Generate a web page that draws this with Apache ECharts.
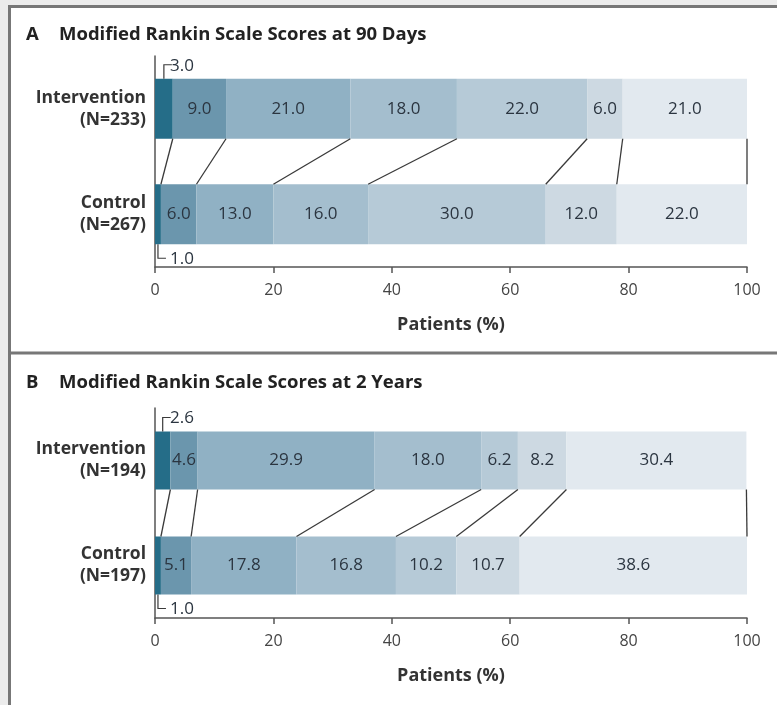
<!DOCTYPE html>
<html style="height: 100%">
<head>
    <meta charset="utf-8">
    <script type="text/javascript" src="https://cdn.jsdelivr.net/npm/echarts@6/dist/echarts.min.js"></script>
</head>
<body style="height: 100%; margin: 0">
<div id="container" style="height: 705px;width: 777px;position: absolute;top: 0;left: 0px;"></div>
<script type="text/javascript">
    // mRS score shares (%), score 0 .. 6
    var catsA = ['Intervention\n(N=233)', 'Control\n(N=267)'];
    var intA = [3.0, 9.0, 21.0, 18.0, 22.0, 6.0, 21.0];
    var ctrlA = [1.0, 6.0, 13.0, 16.0, 30.0, 12.0, 22.0];
    var catsB = ['Intervention\n(N=194)', 'Control\n(N=197)'];
    var intB = [2.6, 4.6, 29.9, 18.0, 6.2, 8.2, 30.4];
    var ctrlB = [1.0, 5.1, 17.8, 16.8, 10.2, 10.7, 38.6];
    var xTicks = [0, 20, 40, 60, 80, 100];

    var colors = ['#256d88', '#6b96ad', '#90b1c4', '#a4bece', '#b6cad7', '#cdd9e2', '#e2e9ef'];
    var font = 'Open Sans';
    var txt = '#2b3540';

    var dom = document.getElementById("container");
    var myChart = echarts.init(dom, null, {renderer: 'canvas'});

    function cum(arr) {
        var s = 0, out = [];
        for (var i = 0; i < arr.length; i++) {
            s += arr[i];
            out.push(Math.min(Math.round(s * 10) / 10, 100));
        }
        return out;
    }

    function panel(g, ints, ctrls, bw) {
        var series = [];
        for (var i = 0; i < ints.length; i++) {
            series.push({
                type: 'bar',
                xAxisIndex: g, yAxisIndex: g,
                stack: 'p' + g,
                barWidth: bw,
                itemStyle: {color: colors[i]},
                label: {
                    show: i > 0,
                    position: 'inside',
                    color: txt,
                    fontFamily: font,
                    fontSize: 17,
                    formatter: function (p) { return p.value.toFixed(1); }
                },
                data: [ints[i], ctrls[i]]
            });
        }
        // connecting lines between the two bars
        var ci = cum(ints), cc = cum(ctrls);
        var links = [];
        for (var k = 0; k < ci.length; k++) links.push([ci[k], cc[k], 0]);
        series.push({
            type: 'custom',
            xAxisIndex: g, yAxisIndex: g,
            encode: {x: [0, 1], y: 2},
            z: 5,
            renderItem: function (params, api) {
                var a = api.coord([api.value(0), 0]);
                var b = api.coord([api.value(1), 1]);
                return {
                    type: 'line',
                    shape: {x1: a[0], y1: a[1] + bw / 2, x2: b[0], y2: b[1] - bw / 2},
                    style: {stroke: '#3a3a3a', lineWidth: 1.3}
                };
            },
            data: links
        });
        // brackets for the smallest (score 0) segments
        series.push({
            type: 'custom',
            xAxisIndex: g, yAxisIndex: g,
            encode: {x: 0, y: 2},
            z: 5,
            renderItem: function (params, api) {
                var v = api.value(1), row = api.value(2);
                var c = api.coord([v / 2, row]);
                var dir = row === 0 ? -1 : 1;
                var y0 = c[1] + dir * bw / 2;
                var y1 = y0 + dir * 14;
                return {
                    type: 'group',
                    children: [{
                        type: 'polyline',
                        shape: {points: [[c[0], y0], [c[0], y1], [c[0] + 8, y1]]},
                        style: {stroke: '#3a3a3a', lineWidth: 1.2, fill: null}
                    }, {
                        type: 'text',
                        style: {
                            text: v.toFixed(1), x: 170, y: y1 + 1,
                            fill: txt, fontFamily: font, fontSize: 17,
                            align: 'left', verticalAlign: 'middle'
                        }
                    }]
                };
            },
            data: [[0, ints[0], 0], [0, ctrls[0], 1]]
        });
        return series;
    }

    function xAx(g) {
        return {
            type: 'value', gridIndex: g, min: 0, max: 100, interval: 20,
            name: 'Patients (%)', nameLocation: 'middle', nameGap: 49,
            nameTextStyle: {fontFamily: font, fontWeight: 'bold', fontSize: 18, color: '#333'},
            axisLine: {show: true, lineStyle: {color: '#555', width: 1.5}},
            axisTick: {show: true, length: 6, lineStyle: {color: '#555', width: 1.5}},
            axisLabel: {fontFamily: font, fontSize: 16, color: '#444', margin: 15,
                formatter: function (v) { return xTicks.indexOf(v) >= 0 ? String(v) : ''; }},
            splitLine: {show: false}
        };
    }

    function yAx(g, cats) {
        return {
            type: 'category', gridIndex: g, inverse: true, data: cats,
            axisLine: {show: true, lineStyle: {color: '#555', width: 1.5}},
            axisTick: {show: false},
            axisLabel: {fontFamily: font, fontWeight: 'bold', fontSize: 17.5, color: '#333',
                lineHeight: 22, margin: 9, align: 'right'}
        };
    }

    var titleStyle = {fontFamily: font, fontWeight: 'bold', fontSize: 18.5, color: '#222'};

    option = {
        backgroundColor: '#ececec',
        animation: false,
        graphic: [{
            type: 'rect', z: -10,
            shape: {x: 9.5, y: 6.5, width: 800, height: 740},
            style: {fill: '#fff', stroke: '#777', lineWidth: 3}
        }, {
            type: 'line', z: -9,
            shape: {x1: 9, y1: 353, x2: 777, y2: 353},
            style: {stroke: '#777', lineWidth: 3}
        }],
        title: [
            {text: 'A', left: 21, top: 20, textStyle: titleStyle},
            {text: 'Modified Rankin Scale Scores at 90 Days', left: 54, top: 20, textStyle: titleStyle},
            {text: 'B', left: 21, top: 368, textStyle: titleStyle},
            {text: 'Modified Rankin Scale Scores at 2 Years', left: 54, top: 368, textStyle: titleStyle}
        ],
        grid: [
            {left: 155, right: 30, top: 56, height: 211},
            {left: 155, right: 30, top: 408, height: 210}
        ],
        xAxis: [xAx(0), xAx(1)],
        yAxis: [yAx(0, catsA), yAx(1, catsB)],
        series: panel(0, intA, ctrlA, 60).concat(panel(1, intB, ctrlB, 58))
    };
    myChart.setOption(option, true);
</script>
</body>
</html>
